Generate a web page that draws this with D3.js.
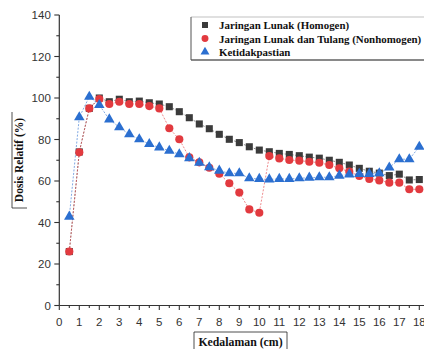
<!DOCTYPE html>
<html>
<head>
<meta charset="utf-8">
<script src="https://cdn.jsdelivr.net/npm/d3@7"></script>
<style>
  body { margin: 0; background: #fff; }
  svg { display: block; }
</style>
</head>
<body>
<div id="chart"></div>
<script>
// kedalaman (cm), setiap 0.5 cm
const depth = d3.range(1, 37).map(i => i * 0.5);

const homogen = [26, 74, 95, 100, 98.2, 99.4, 98.2, 98.5, 97.7, 97.1, 95.8, 93.4, 90.5, 87.5, 85.2, 82.5,
  80.1, 78.5, 76.5, 74.9, 74.1, 73.3, 72.8, 72.2, 71.5, 71, 70, 69, 67.7, 66.1, 64.7, 63.8, 62.6, 63.3, 60.5, 60.7];

const nonhomogen = [26, 73.8, 95, 99.5, 97.1, 98.2, 97.1, 97.1, 96.1, 95, 85.4, 80.1, 71.4, 69, 66.4, 63.5,
  58.9, 54.4, 46.3, 44.7, 72, 70.9, 70.1, 69.8, 69.3, 68.8, 67.7, 66.1, 64.5, 62.4, 61, 60.3, 59.2, 59.2, 56, 56];

const ketidakpastian = [42.8, 90.7, 100.6, 96.6, 89.7, 85.9, 82.5, 80.1, 77.8, 76.2, 74.6, 72.9, 71, 68.8, 66.6, 65,
  63.7, 63.7, 61.3, 61, 60.8, 61, 61, 61.3, 61.6, 61.8, 61.8, 62.6, 63.2, 63.4, 63.4, 63.7, 66.5, 70.5, 70.5, 76.5];

const xTicks = d3.range(0, 19);
const yTicks = [0, 20, 40, 60, 80, 100, 120, 140];

const legendLabels = ["Jaringan Lunak (Homogen)", "Jaringan Lunak dan Tulang (Nonhomogen)", "Ketidakpastian"];

const W = 424, H = 349;

const svg = d3.select("#chart")
  .append("svg")
  .attr("width", W)
  .attr("height", H);

svg.append("rect").attr("width", W).attr("height", H).attr("fill", "#fff");

const x = d3.scaleLinear().domain([0, 18]).range([59.3, 419.3]);
const y = d3.scaleLinear().domain([0, 140]).range([305.5, 15]);

const axisColor = "#333";

// sumbu x
const gx = svg.append("g").attr("transform", `translate(0, ${y(0)})`);
gx.append("line")
  .attr("x1", x(0)).attr("x2", W)
  .attr("stroke", axisColor).attr("stroke-width", 1.2);
gx.selectAll(".major")
  .data(xTicks)
  .join("line")
  .attr("x1", d => x(d)).attr("x2", d => x(d))
  .attr("y1", 0).attr("y2", 4.5)
  .attr("stroke", axisColor).attr("stroke-width", 1.1);
gx.selectAll(".minor")
  .data(xTicks.slice(0, -1).map(d => d + 0.5))
  .join("line")
  .attr("x1", d => x(d)).attr("x2", d => x(d))
  .attr("y1", 0).attr("y2", 2.5)
  .attr("stroke", axisColor).attr("stroke-width", 1.1);
gx.selectAll("text")
  .data(xTicks)
  .join("text")
  .attr("x", d => x(d))
  .attr("y", 20.5)
  .attr("text-anchor", "middle")
  .attr("font-family", "Liberation Sans, Arial, sans-serif")
  .attr("font-size", 11.5)
  .attr("fill", axisColor)
  .text(d => d);

// sumbu y
const gy = svg.append("g").attr("transform", `translate(${x(0)}, 0)`);
gy.append("line")
  .attr("y1", y(0)).attr("y2", y(140))
  .attr("stroke", axisColor).attr("stroke-width", 1.2);
gy.selectAll(".major")
  .data(yTicks)
  .join("line")
  .attr("x1", -5).attr("x2", 0)
  .attr("y1", d => y(d)).attr("y2", d => y(d))
  .attr("stroke", axisColor).attr("stroke-width", 1.1);
gy.selectAll(".minor")
  .data(yTicks.slice(0, -1).map(d => d + 10))
  .join("line")
  .attr("x1", -3).attr("x2", 0)
  .attr("y1", d => y(d)).attr("y2", d => y(d))
  .attr("stroke", axisColor).attr("stroke-width", 1.1);
gy.selectAll("text")
  .data(yTicks)
  .join("text")
  .attr("x", -8.5)
  .attr("y", d => y(d) + 4)
  .attr("text-anchor", "end")
  .attr("font-family", "Liberation Sans, Arial, sans-serif")
  .attr("font-size", 11.5)
  .attr("fill", axisColor)
  .text(d => d);

// judul sumbu
const serif = "Liberation Serif, Times New Roman, serif";
const xt = svg.append("g");
xt.append("path")
  .attr("d", "M194,349 V332 H287 V349")
  .attr("fill", "none").attr("stroke", "#222").attr("stroke-width", 0.8);
xt.append("text")
  .attr("x", 240.5).attr("y", 345.5)
  .attr("text-anchor", "middle")
  .attr("font-family", serif).attr("font-weight", "bold").attr("font-size", 11.8)
  .attr("fill", "#111")
  .text("Kedalaman (cm)");

const yt = svg.append("g");
yt.append("path")
  .attr("d", "M12,112 V208 H27")
  .attr("fill", "none").attr("stroke", "#222").attr("stroke-width", 0.8);
yt.append("text")
  .attr("transform", "translate(22.5, 160) rotate(-90)")
  .attr("text-anchor", "middle")
  .attr("font-family", serif).attr("font-weight", "bold").attr("font-size", 11.5)
  .attr("fill", "#111")
  .text("Dosis Relatif (%)");

// seri data
const series = [
  {name: legendLabels[0], values: homogen, color: "#3b3b3b", shape: d3.symbolSquare, size: 50},
  {name: legendLabels[1], values: nonhomogen, color: "#e23a3f", shape: d3.symbolCircle, size: 52},
  {name: legendLabels[2], values: ketidakpastian, color: "#2b6fd0", shape: d3.symbolTriangle, size: 48}
];

const line = d3.line()
  .x((d, i) => x(depth[i]))
  .y(d => y(d));

series.forEach(s => {
  svg.append("path")
    .datum(s.values)
    .attr("d", line)
    .attr("fill", "none")
    .attr("stroke", s.color)
    .attr("stroke-opacity", 0.75)
    .attr("stroke-width", 0.8)
    .attr("stroke-dasharray", "2,1.5");
});

series.forEach(s => {
  svg.append("g")
    .selectAll("path")
    .data(s.values)
    .join("path")
    .attr("transform", (d, i) => `translate(${x(depth[i])}, ${y(d)})`)
    .attr("d", d3.symbol().type(s.shape).size(s.size))
    .attr("fill", s.color);
});

// legenda
const lg = svg.append("g").attr("transform", "translate(191, 17)");
lg.append("path")
  .attr("d", "M240,0 H0 V43 H240")
  .attr("fill", "#fff").attr("stroke", "#999").attr("stroke-width", 0.6);
lg.append("line")
  .attr("x1", 0).attr("x2", 240).attr("y1", 43).attr("y2", 43)
  .attr("stroke", "#333").attr("stroke-width", 1.2);
lg.append("line")
  .attr("x1", 0).attr("x2", 0).attr("y1", 0).attr("y2", 43)
  .attr("stroke", "#555").attr("stroke-width", 0.8);

const rows = lg.selectAll(".row")
  .data(series)
  .join("g")
  .attr("transform", (d, i) => `translate(0, ${8 + i * 13.5})`);
rows.append("path")
  .attr("transform", "translate(14, 0)")
  .attr("d", d => d3.symbol().type(d.shape).size(d.size * 0.72)())
  .attr("fill", d => d.color);
rows.append("text")
  .attr("x", 28)
  .attr("y", 4)
  .attr("font-family", serif).attr("font-weight", "bold").attr("font-size", 10.9)
  .attr("fill", "#111")
  .text(d => d.name);
</script>
</body>
</html>
